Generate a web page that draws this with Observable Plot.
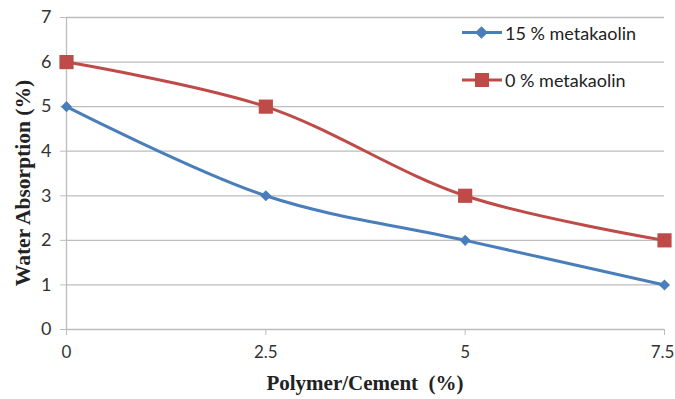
<!DOCTYPE html>
<html><head><meta charset="utf-8">
<script src="https://cdn.jsdelivr.net/npm/d3@7"></script>
<script src="https://cdn.jsdelivr.net/npm/@observablehq/plot@0.6"></script>
<style>
body{margin:0;background:#fff;}
#wrap{position:relative;width:675px;height:399px;}
.leg{position:absolute;left:462px;font-family:Lato,"Liberation Sans",sans-serif;font-size:18px;color:#222;display:flex;align-items:center;}
.leg svg{margin-right:1px;}
</style>
</head><body>
<div id="wrap"></div>
<script>
const xValues = [0, 2.5, 5, 7.5];
const series15 = [5, 3, 2, 1];
const series0 = [6, 5, 3, 2];
const seriesNames = ["15 % metakaolin", "0 % metakaolin"];
const colors = ["#4A7EBB", "#BE4B48"];
const xTicks = [0, 2.5, 5, 7.5];
const yTicks = [0, 1, 2, 3, 4, 5, 6, 7];

const d15 = xValues.map((x, i) => ({x, y: series15[i]}));
const d0 = xValues.map((x, i) => ({x, y: series0[i]}));

const chart = Plot.plot({
  width: 675, height: 399,
  marginLeft: 66, marginRight: 11, marginTop: 17, marginBottom: 70,
  style: {fontFamily: "Lato, 'Liberation Sans', sans-serif", fontSize: "18px", color: "#333", background: "#fff"},
  x: {domain: [0, 7.5], label: null},
  y: {domain: [0, 7], label: null},
  marks: [
    Plot.ruleY(yTicks, {stroke: "#bdbdbd", strokeWidth: 1.3}),
    Plot.ruleX([0], {stroke: "#bdbdbd", strokeWidth: 1.3}),
    Plot.axisX({ticks: xTicks, tickSize: 6, tickPadding: 10, stroke: "#bdbdbd", fill: "#333", tickFormat: d => String(d), label: null, fontSize: 17, textAnchor: "middle"}),
    Plot.axisY({ticks: yTicks, tickSize: 6, tickPadding: 9, stroke: "#bdbdbd", fill: "#333", tickFormat: d => String(d), label: null, fontSize: 18}),
    Plot.line(d15, {x: "x", y: "y", stroke: colors[0], strokeWidth: 3, curve: "catmull-rom"}),
    Plot.line(d0, {x: "x", y: "y", stroke: colors[1], strokeWidth: 3, curve: "catmull-rom"}),
    Plot.dot(d15, {x: "x", y: "y", symbol: "diamond2", r: 5, fill: colors[0], stroke: "none"}),
    Plot.dot(d0, {x: "x", y: "y", symbol: "square", r: 8, fill: colors[1], stroke: "none"})
  ]
});
const wrap = document.getElementById("wrap");
wrap.appendChild(chart);

// keep the last x tick label inside the frame
const xLabels = d3.select(chart).selectAll("[aria-label='x-axis tick label'] text");
xLabels.filter((d, i, n) => i === n.length - 1).attr("dx", -2);

// axis titles
const svg = d3.select(chart);
svg.append("text").attr("x", 365).attr("y", 390).attr("text-anchor", "middle")
  .style("font-family", "'Liberation Serif', 'Times New Roman', serif").style("font-weight", "bold").style("font-size", "21px").attr("fill", "#222")
  .text("Polymer/Cement  (%)");
svg.append("text").attr("transform", "translate(30,183) rotate(-90)").attr("text-anchor", "middle")
  .style("font-family", "'Liberation Serif', 'Times New Roman', serif").style("font-weight", "bold").style("font-size", "21.5px").attr("fill", "#222")
  .text("Water Absorption (%)");

// legend
const legY = [33, 80];
seriesNames.forEach((name, i) => {
  const div = document.createElement("div");
  div.className = "leg";
  div.style.top = (legY[i] - 11) + "px";
  const sym = i === 0
    ? `<rect x="15" y="5" width="9" height="9" transform="rotate(45 19.5 9.5)" fill="${colors[0]}"/>`
    : `<rect x="13" y="3" width="14" height="14" fill="${colors[1]}"/>`;
  div.innerHTML = `<svg width="42" height="20"><line x1="0" x2="40" y1="${i===0?9.5:10}" y2="${i===0?9.5:10}" stroke="${colors[i]}" stroke-width="3"/>${sym}</svg><span>${name}</span>`;
  wrap.appendChild(div);
});
</script>
</body></html>
